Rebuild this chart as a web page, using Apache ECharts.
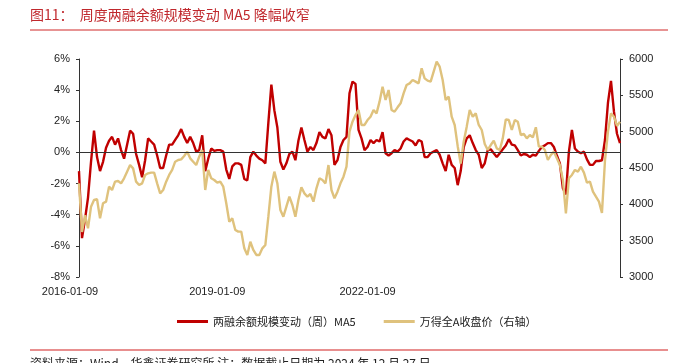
<!DOCTYPE html>
<html><head><meta charset="utf-8">
<script src="https://cdn.jsdelivr.net/npm/echarts@6/dist/echarts.min.js"></script>
<style>html,body{margin:0;padding:0;background:#fff;}#c{width:676px;height:363px;}</style>
</head><body><div id="c"></div>
<script>
const titleText = '图11：  周度两融余额规模变动 MA5 降幅收窄';
const sourceText = '资料来源：Wind，华鑫证券研究所 注：数据截止日期为 2024 年 12 月 27 日';
const seriesNames = ['两融余额规模变动（周）MA5', '万得全A收盘价（右轴）'];
const tickLabels = ['2016-01-09', '2019-01-09', '2022-01-09'];
const tickIndex = [0, 49, 99];
const leftTicks = {min: -8, max: 6, interval: 2};
const rightTicks = {min: 3000, max: 6000, interval: 500};

// 两融余额规模变动 MA5 (%)
const marginMA5 = [
-1.2,-5.5,-4.3,-2.9,-0.6,1.4,-0.3,-1.2,-0.6,0.3,
0.75,1.0,0.5,0.9,0.15,-0.4,0.5,1.4,1.2,-0.1,
-0.8,-1.6,-0.5,0.9,0.7,0.5,-0.2,-1.0,-1.0,-0.2,
0.5,0.5,0.8,1.1,1.5,1.0,0.6,1.0,0.6,0.05,
0.15,1.1,-1.2,-0.4,0.25,0.1,0.15,0.15,0.05,-1.1,
-1.7,-0.9,-0.7,-0.7,-0.8,-1.7,-1.8,-0.3,0.05,-0.2,
-0.4,-0.5,-0.7,1.9,4.35,2.7,1.6,-0.6,-1.1,-0.7,
-0.1,0.05,-0.5,0.75,1.6,0.8,0.05,0.35,0.15,0.6,
1.3,1.0,0.9,1.5,1.1,-0.8,-0.5,0.35,0.8,1.0,
3.8,4.55,4.4,1.45,0.9,0.15,0.35,0.8,0.6,0.8,
0.7,1.3,-0.05,-0.2,-0.05,0.15,0.05,0.25,0.7,0.9,
0.8,0.7,0.45,0.8,0.7,-0.3,-0.3,-0.05,0.05,0.15,
-0.15,-0.7,-1.2,-0.15,-0.8,-1.0,-2.1,-1.2,0.35,0.9,
1.1,0.6,0.15,-0.15,-1.0,-0.7,0.15,0.2,-0.05,-0.3,
-0.05,0.2,0.45,0.85,0.5,0.45,0.15,-0.2,-0.1,-0.15,
-0.3,-0.15,-0.2,0.1,0.35,0.45,0.6,0.6,0.35,-0.2,
-0.7,-2.3,-2.7,0.05,1.45,0.25,0.05,-0.05,0.05,-0.45,
-0.8,-0.8,-0.55,-0.55,-0.5,0.8,3.2,4.6,2.6,1.2,
0.6
];

// 万得全A收盘价
const windAllA = [
4290,3620,3850,3670,3968,4060,4070,3807,4014,4037,
4243,4197,4312,4321,4289,4358,4450,4541,4495,4312,
4266,4289,4404,4427,4436,4436,4289,4151,4197,4312,
4404,4473,4587,4610,4619,4665,4725,4633,4587,4541,
4656,4748,4197,4473,4358,4335,4298,4312,4243,4014,
3761,3807,3647,3624,3624,3394,3303,3486,3372,3303,
3303,3394,3440,3830,4243,4450,4289,3922,3830,3968,
4105,3991,3830,4060,4234,4151,4105,4142,4037,4220,
4358,4335,4289,4541,4197,4083,4174,4289,4381,4518,
5000,5137,5229,5298,5092,5092,5160,5206,5298,5252,
5413,5619,5436,5573,5298,5275,5335,5390,5527,5642,
5665,5711,5688,5665,5872,5734,5702,5688,5826,5963,
5894,5711,5436,5482,5206,5092,4800,4560,4862,5069,
5298,5206,5252,5092,5023,4830,4748,4816,4876,4770,
4748,4908,5170,5160,5023,5160,5137,4954,4968,4908,
4954,4922,5060,4794,4794,4748,4610,4679,4725,4633,
4541,4335,3876,4358,4404,4473,4450,4518,4436,4298,
4312,4174,4105,4037,3880,4600,5000,5252,5206,5078,
5137
];

// weekly-ish category dates (axis positions only)
const categories = [];
(function(){
  const start = Date.UTC(2016,0,8);
  const end = Date.UTC(2024,11,27);
  const n = marginMA5.length;
  for (let i = 0; i < n; i++) {
    const d = new Date(start + (end - start) * i / (n - 1));
    categories.push(d.toISOString().slice(0,10));
  }
})();

const RED = '#C00000';
const TAN = '#DFC27D';
const AXIS = '#333';
const FONT = 'Liberation Sans, Arial, Noto Sans CJK SC, sans-serif';

const chart = echarts.init(document.getElementById('c'));
chart.setOption({
  animation: false,
  backgroundColor: '#fff',
  textStyle: {fontFamily: FONT},
  grid: {left: 79, right: 56, top: 59, bottom: 86, containLabel: false},
  legend: {
    left: 172, top: 311,
    itemWidth: 31, itemHeight: 3, itemGap: 28,
    icon: 'rect',
    textStyle: {fontSize: 11, color: '#222', fontFamily: 'Noto Sans CJK SC, sans-serif'},
    data: seriesNames
  },
  xAxis: {
    type: 'category',
    data: categories,
    boundaryGap: false,
    axisLine: {show: false},
    axisTick: {show: false},
    splitLine: {show: false},
    axisLabel: {
      interval: function (idx) { return tickIndex.indexOf(idx) >= 0; },
      formatter: function (val, idx) {
        const k = tickIndex.indexOf(idx);
        return k >= 0 ? tickLabels[k] : '';
      },
      padding: [0, 18, 0, 0],
      margin: 9,
      fontSize: 11,
      color: '#222'
    }
  },
  yAxis: [
    {
      type: 'value', position: 'left',
      min: leftTicks.min, max: leftTicks.max, interval: leftTicks.interval,
      axisLine: {show: true, lineStyle: {color: AXIS, width: 1}},
      axisTick: {show: true, length: 3, lineStyle: {color: AXIS}},
      splitLine: {show: false},
      axisLabel: {formatter: '{value}%', fontSize: 11, color: '#222', margin: 9}
    },
    {
      type: 'value', position: 'right',
      min: rightTicks.min, max: rightTicks.max, interval: rightTicks.interval,
      axisLine: {show: true, lineStyle: {color: AXIS, width: 1}},
      axisTick: {show: true, length: 3, lineStyle: {color: AXIS}},
      splitLine: {show: false},
      axisLabel: {formatter: function (v) { return String(v); }, fontSize: 11, color: '#222', margin: 9}
    }
  ],
  series: [
    {
      name: seriesNames[0], type: 'line', yAxisIndex: 0,
      data: marginMA5, showSymbol: false, symbol: 'none',
      lineStyle: {color: RED, width: 2.4}, itemStyle: {color: RED},
      z: 3,
      markLine: {
        silent: true, symbol: 'none', label: {show: false},
        lineStyle: {color: '#333', width: 1, type: 'solid'},
        data: [{yAxis: 0}]
      }
    },
    {
      name: seriesNames[1], type: 'line', yAxisIndex: 1,
      data: windAllA, showSymbol: false, symbol: 'none',
      lineStyle: {color: TAN, width: 2.4}, itemStyle: {color: TAN},
      z: 4
    }
  ],
  graphic: [
    {type: 'text', left: 30, top: 8, style: {text: titleText, fontSize: 14, fill: '#C0282D', fontFamily: 'Noto Sans CJK SC, sans-serif'}},
    {type: 'line', shape: {x1: 30, y1: 30, x2: 668, y2: 30}, style: {stroke: '#D02828', lineWidth: 1}},
    {type: 'line', shape: {x1: 30, y1: 350, x2: 668, y2: 350}, style: {stroke: '#E06A6A', lineWidth: 1.5}},
    {type: 'text', left: 30, top: 357, style: {text: sourceText, fontSize: 12, fill: '#222', fontFamily: 'Noto Sans CJK SC, sans-serif'}}
  ]
});
</script></body></html>
